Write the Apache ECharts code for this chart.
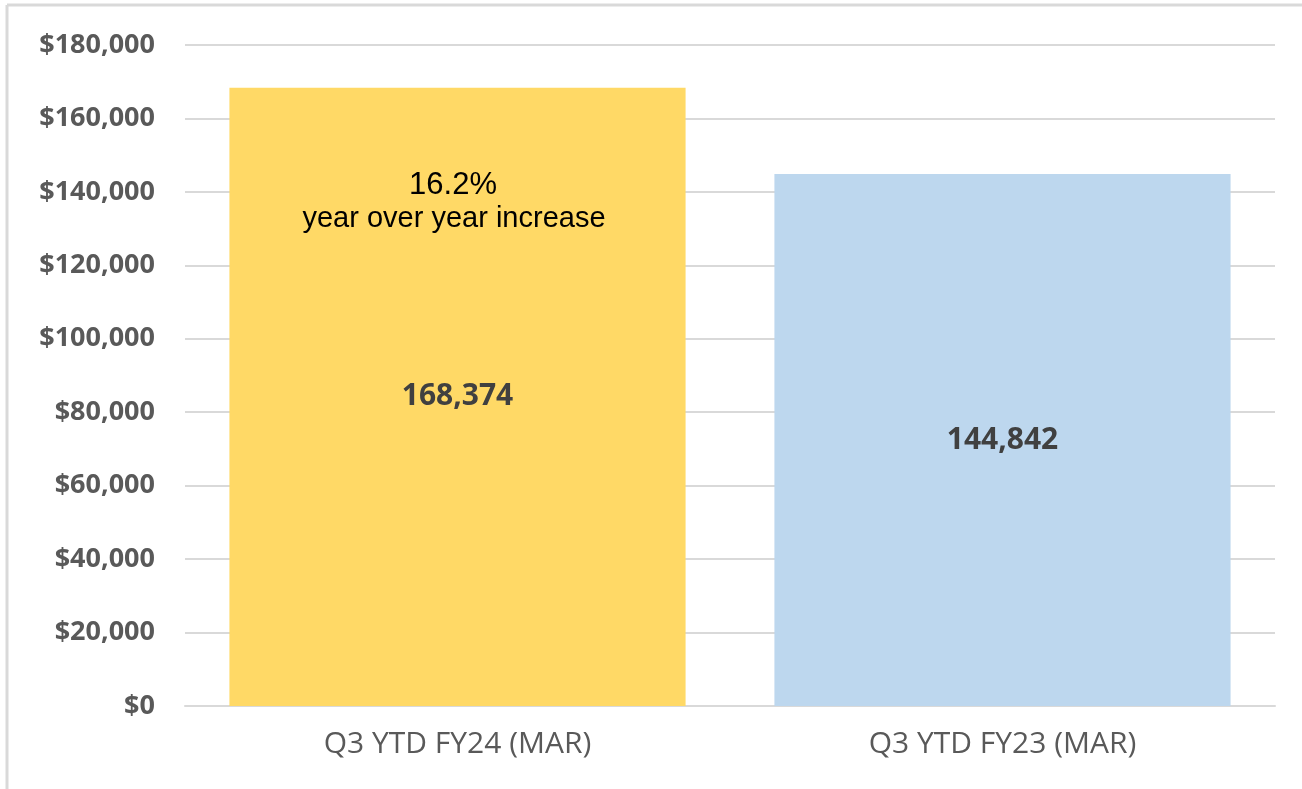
<!DOCTYPE html>
<html>
<head>
<meta charset="utf-8">
<script src="https://cdn.jsdelivr.net/npm/echarts@6/dist/echarts.min.js"></script>
<style>
  html, body { margin: 0; padding: 0; background: #fff; }
  #chart { width: 1302px; height: 789px; }
</style>
</head>
<body>
<div id="chart"></div>
<script>
// 数据
var categories = ['Q3 YTD FY24 (MAR)', 'Q3 YTD FY23 (MAR)'];
var values = [168374, 144842];
var barColors = ['#FFD966', '#BDD7EE'];
var noteLines = ['16.2%', 'year over year increase'];

var myChart = echarts.init(document.getElementById('chart'));

var option = {
    animation: false,
    grid: { left: 185, right: 27, top: 45, bottom: 83 },
    xAxis: {
        type: 'category',
        data: categories,
        axisLine: { lineStyle: { color: '#d9d9d9', width: 2 } },
        axisTick: { show: false },
        axisLabel: {
            color: '#595959',
            fontFamily: 'Open Sans',
            fontSize: 30,
            margin: 23
        }
    },
    yAxis: {
        type: 'value',
        min: 0,
        max: 180000,
        interval: 20000,
        axisLine: { show: false },
        axisTick: { show: false },
        splitLine: { lineStyle: { color: '#d9d9d9', width: 2 } },
        axisLabel: {
            color: '#595959',
            fontFamily: 'Open Sans',
            fontWeight: 'bold',
            fontSize: 27,
            margin: 30,
            formatter: function(v) {
                return '$' + v.toLocaleString('en-US');
            }
        }
    },
    series: [{
        type: 'bar',
        barCategoryGap: '16.3%',
        data: values.map(function(v, i) {
            return { value: v, itemStyle: { color: barColors[i] } };
        }),
        label: {
            show: true,
            position: 'inside',
            color: '#404040',
            fontFamily: 'Open Sans',
            fontWeight: 'bold',
            fontSize: 30,
            formatter: function(p) {
                return p.value.toLocaleString('en-US');
            }
        }
    }],
    graphic: [
        // 外框
        { type: 'line', z: 100, shape: { x1: 7, y1: 5, x2: 1302, y2: 5 }, style: { stroke: '#d9d9d9', lineWidth: 3 } },
        { type: 'line', z: 100, shape: { x1: 7, y1: 5, x2: 7, y2: 789 }, style: { stroke: '#d9d9d9', lineWidth: 3 } },
        // 注释
        {
            type: 'text',
            z: 100,
            x: 453, y: 185,
            style: {
                text: noteLines[0],
                fill: '#000',
                font: '31px "Liberation Sans", Arial, sans-serif',
                align: 'center',
                verticalAlign: 'middle'
            }
        },
        {
            type: 'text',
            z: 100,
            x: 454, y: 219,
            style: {
                text: noteLines[1],
                fill: '#000',
                font: '29px "Liberation Sans", Arial, sans-serif',
                align: 'center',
                verticalAlign: 'middle'
            }
        }
    ]
};

myChart.setOption(option);
</script>
</body>
</html>
